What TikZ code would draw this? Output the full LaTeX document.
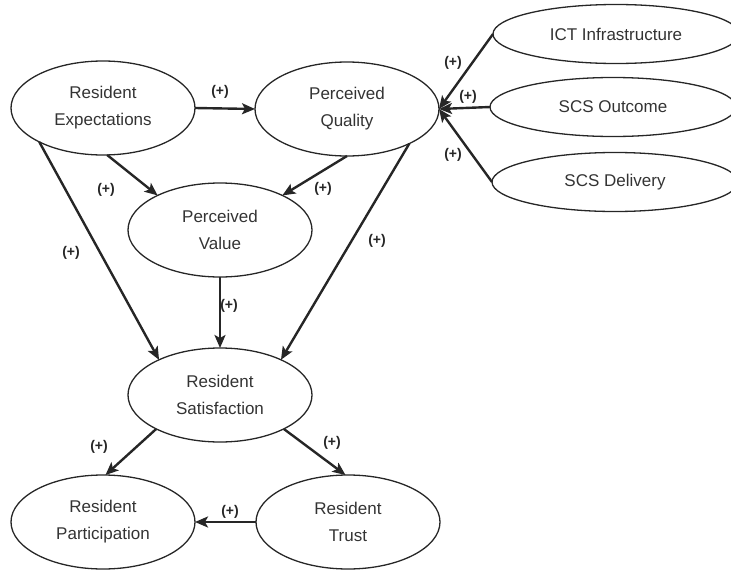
\documentclass[tikz,border=0pt]{standalone}
\usepackage{fontspec}
\setmainfont{Liberation Sans}
\usetikzlibrary{shapes.geometric,arrows.meta}
\begin{document}
\begin{tikzpicture}[x=1pt,y=-1pt,
  construct/.style={ellipse,draw=black!85,line width=1.3pt,inner sep=0pt,outer sep=0pt,
    minimum width=184pt,minimum height=94pt,align=center,text=black!80,
    font=\fontsize{17}{27}\selectfont},
  outer/.style={construct,minimum width=246pt,minimum height=59pt},
  path/.style={draw=black!85,line width=2.4pt,-{Stealth[length=13pt,width=11pt,inset=3pt]}},
  sign/.style={font=\bfseries\fontsize{14}{14}\selectfont,text=black!85,inner sep=0pt}]
\useasboundingbox (0,0) rectangle (731,570);
\clip (0,0) rectangle (731,570);
\node[construct] (re) at (103,108) {Resident\\Expectations};
\node[construct] (pq) at (347,109) {Perceived\\Quality};
\node[construct] (pv) at (220,230) {Perceived\\Value};
\node[construct] (rs) at (220,395) {Resident\\Satisfaction};
\node[construct] (rp) at (103,522) {Resident\\Participation};
\node[construct] (rt) at (348,522) {Resident\\Trust};
\node[outer] (ict) at (616,34) {ICT Infrastructure};
\node[outer] (sco) at (613,107) {SCS Outcome};
\node[outer] (scd) at (615,182) {SCS Delivery};

\draw[path] (re.east) -- (pq.west);
\draw[path] (re.-85) -- (pv.151);
\draw[path] (pq.south) -- (pv.29);
\draw[path] (re.-152) -- (rs.150);
\draw[path] (pq.-29) -- (rs.30);
\draw[path] (pv.south) -- (rs.north);
\draw[path] (rs.-152) -- (rp.87);
\draw[path] (rs.-28) -- (rt.93);
\draw[path] (rt.west) -- (rp.east);
\draw[path] (ict.west) -- (pq.east);
\draw[path] (sco.west) -- (pq.east);
\draw[path] (scd.west) -- (pq.east);

\node[sign] (l1) at (220,92) {(+)};
\node[sign] (l2) at (106,190) {(+)};
\node[sign] (l3) at (323,189) {(+)};
\node[sign] (l4) at (71,253) {(+)};
\node[sign] (l5) at (377,241) {(+)};
\node[sign] (l6) at (229,306) {(+)};
\node[sign] (l7) at (99,447) {(+)};
\node[sign] (l8) at (332,443) {(+)};
\node[sign] (l9) at (230,512) {(+)};
\node[sign] (l10) at (453,63) {(+)};
\node[sign] (l11) at (468,97) {(+)};
\node[sign] (l12) at (453,155) {(+)};
\end{tikzpicture}
\end{document}
